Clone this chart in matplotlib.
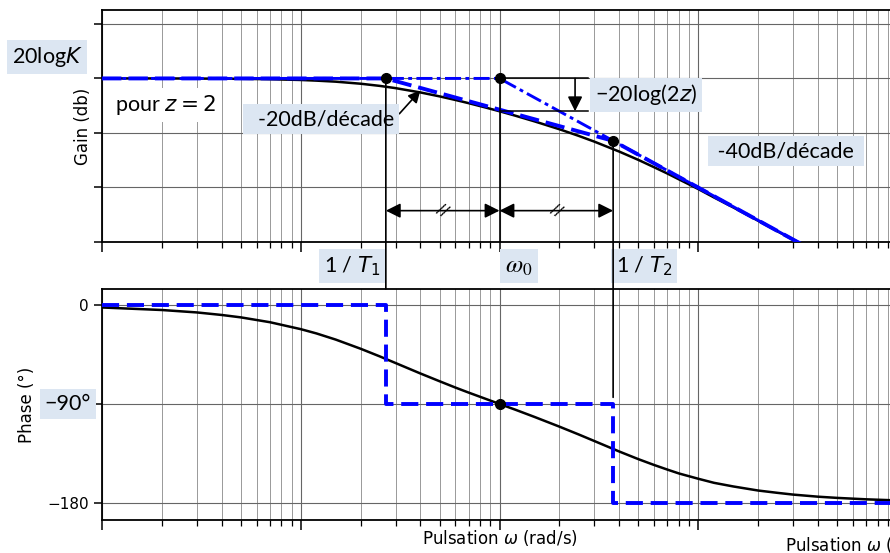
import matplotlib.pyplot as plt
from matplotlib.patches import ConnectionPatch

W, H = 890, 553

# pulsation (rad/s), omega0 = 1
omega = [0.01, 0.02, 0.03, 0.04, 0.05, 0.07, 0.1, 0.12, 0.15, 0.2, 0.25, 0.3,
         0.4, 0.5, 0.6, 0.7, 0.85, 1, 1.2, 1.5, 2, 2.5, 3, 4, 5, 6, 7, 8, 10,
         12, 15, 20, 25, 30, 40, 50, 70, 100]
gain_db = [0.0, 0.0, -0.05, -0.10, -0.15, -0.29, -0.57, -0.81, -1.19, -1.94,
           -2.74, -3.56, -5.14, -6.59, -7.90, -9.08, -10.66, -12.04, -13.66,
           -15.75, -18.63, -21.06, -23.18, -26.82, -29.89, -32.58, -34.90,
           -37.03, -40.57, -43.66, -47.31, -52.19, -56.05, -59.15, -64.12,
           -67.98, -73.82, -80.0]
phase_deg = [-2.3, -4.6, -6.8, -9.1, -11.3, -15.7, -22.0, -25.9, -31.5, -39.8,
             -46.8, -52.8, -62.3, -69.4, -75.1, -79.7, -85.3, -90.0, -95.2,
             -101.8, -110.6, -117.7, -123.7, -133.2, -140.2, -145.5, -149.7,
             -153.2, -158.0, -161.7, -165.0, -168.7, -170.8, -172.4, -174.3,
             -175.4, -176.7, -177.7]

# corner pulsations 1/T1, omega0, 1/T2
w1, w0, w2 = 0.268, 1.0, 3.73
g_w0 = -12.04
g_w2 = -22.9

asym_w = [0.01, w1, w2, 100]
asym_gain = [0, 0, g_w2, -80.0]
asym2_w = [0.01, w0, 100]
asym2_gain = [0, 0, -80.0]
step_w = [0.01, w1, w1, w2, w2, 100]
step_phase = [0, 0, -90, -90, -180, -180]

gain_ticks = [-60, -40, -20, 0, 20]
phase_ticks = [-180, -90, 0]
phase_ticklabels = ["\u2212180", "", "0"]

BLUE = "#0000ff"
BOXC = "#dce6f2"
BOXFONT = ["Lato", "DejaVu Sans"]


def px(x, y):
    return x / W, 1 - y / H


def rect(x0, y0, x1, y1):
    return [x0 / W, 1 - y1 / H, (x1 - x0) / W, (y1 - y0) / H]


def label_box(x, y, s, fc=BOXC, size=15.5, math="dejavusans"):
    fig.text(*px(x, y), s, ha="center", va="center", fontsize=size,
             family=BOXFONT, math_fontfamily=math,
             bbox=dict(boxstyle="square,pad=0.22", fc=fc, ec="none"))


fig = plt.figure(figsize=(W / 100, H / 100), dpi=100)
ax1 = fig.add_axes(rect(102, 10, 897, 242))
ax2 = fig.add_axes(rect(102, 289, 897, 520))

for ax in (ax1, ax2):
    ax.set_xscale("log")
    ax.set_xlim(0.01, 100)
    ax.grid(True, which="major", axis="both", color="0.4", lw=0.8)
    ax.grid(True, which="minor", axis="x", color="0.6", lw=0.7)
    ax.tick_params(axis="x", which="major", length=7, width=1.1, labelbottom=False)
    ax.tick_params(axis="x", which="minor", length=4, width=0.9)
    ax.tick_params(axis="y", length=6, width=1.1)
    for sp in ax.spines.values():
        sp.set_linewidth(1.3)

# gain
ax1.set_ylim(-60, 25.1)
ax1.set_yticks(gain_ticks)
ax1.tick_params(axis="y", labelleft=False)
ax1.plot(omega, gain_db, color="k", lw=1.8, zorder=3)
ax1.plot(asym2_w, asym2_gain, color=BLUE, lw=2.1, dashes=(5.5, 1.5, 1.3, 1.5), zorder=4)
ax1.plot(asym_w, asym_gain, color=BLUE, lw=2.8, dashes=(5, 1.8), zorder=4)
ax1.plot([w1, w0, w2], [0, 0, g_w2], "ko", ms=7, zorder=6)
ax1.plot([w0, w0], [0, -60], color="k", lw=1.2, zorder=5)
ax1.set_ylabel("Gain (db)", fontsize=12)
ax1.yaxis.set_label_coords(-0.012, 0.5)

# -20log(2z) marker
ax1.plot([w0, 2.8], [0, 0], color="k", lw=1.1, zorder=5)
ax1.plot([w0, 2.8], [g_w0, g_w0], color="k", lw=1.1, zorder=5)
ax1.annotate("", xy=(2.4, g_w0), xytext=(2.4, 0),
             arrowprops=dict(arrowstyle="-|>", color="k", lw=1.2,
                             mutation_scale=22, shrinkA=0, shrinkB=0))

# double arrows between corner pulsations
for a, b in ((w1, w0), (w0, w2)):
    ax1.annotate("", xy=(b, -48.5), xytext=(a, -48.5),
                 arrowprops=dict(arrowstyle="<|-|>", color="k", lw=1.2,
                                 mutation_scale=22, shrinkA=0, shrinkB=0))
    ax1.text((a * b) ** 0.5, -48.5, "//", ha="center", va="center",
             fontsize=11, rotation=-30)

# phase
ax2.set_ylim(-195.5, 14.5)
ax2.set_yticks(phase_ticks)
ax2.set_yticklabels(phase_ticklabels, fontsize=11)
ax2.plot(omega, phase_deg, color="k", lw=1.8, zorder=3)
ax2.plot(step_w, step_phase, color=BLUE, lw=2.8, dashes=(4.4, 2), zorder=4)
ax2.plot([w0], [-90], "ko", ms=7, zorder=6)
ax2.set_ylabel("Phase (\u00b0)", fontsize=12)
ax2.yaxis.set_label_coords(-0.083, 0.5)
ax2.set_xlabel("Pulsation $\\omega$ (rad/s)", fontsize=12)
ax2.xaxis.set_label_coords(0.5, -0.035)

# lines linking both plots
for xa, ya, yb in ((w1, 0, 14.5), (w2, g_w2, -84)):
    con = ConnectionPatch(xyA=(xa, ya), coordsA=ax1.transData,
                          xyB=(xa, yb), coordsB=ax2.transData,
                          color="k", lw=1.2, zorder=5)
    fig.add_artist(con)

# annotation boxes
label_box(47, 57, "20log$K$")
label_box(165, 105, "pour $z = 2$", fc="white")
label_box(646, 95, "\u221220log(2$z$)")
label_box(786, 151, " -40dB/d\u00e9cade ")
label_box(352, 266, "1 / $T_1$")
label_box(519, 266, "$\\omega_0$", size=18, math="stix")
label_box(644, 266, "1 / $T_2$")
label_box(68, 404, "\u221290\u00b0")

ax1.annotate("  -20dB/d\u00e9cade", xy=(0.4, -4.4), xytext=(321, H - 119),
             textcoords="figure pixels", ha="center", va="center",
             fontsize=15.5, family=BOXFONT,
             bbox=dict(boxstyle="square,pad=0.22", fc=BOXC, ec="none"),
             arrowprops=dict(arrowstyle="-|>", color="k", lw=1.2,
                             mutation_scale=18, shrinkA=0, shrinkB=0,
                             relpos=(1.0, 0.5)))

fig.text(*px(785, 545), "Pulsation $\\omega$ (rad/s)", fontsize=12,
         ha="left", va="center")

fig.savefig("out.png", dpi=100)
